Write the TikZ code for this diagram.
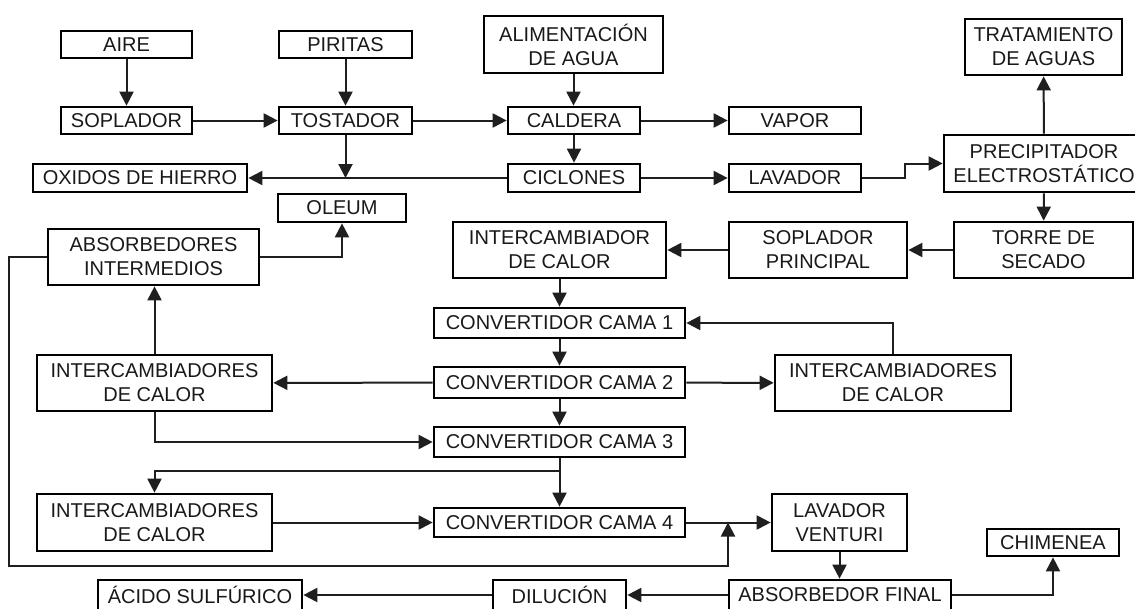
\documentclass[tikz,border=0pt]{standalone}
\usepackage{fontspec}
\setmainfont{Liberation Sans}
\usetikzlibrary{arrows.meta}
\tikzset{
  box/.style={draw=black, line width=2.7pt, fill=white, inner sep=0pt, align=center,
    text=black!90, font=\fontsize{20}{24}\selectfont},
  conn/.style={line width=2pt, draw=black!88, -{Triangle[length=14pt,width=14pt]}},
}
\begin{document}
\begin{tikzpicture}[x=1pt,y=-1pt]
\useasboundingbox (0,0) rectangle (1135,608);
\fill[white] (0,0) rectangle (1135,608);
% nodes
\node[box, minimum width=131, minimum height=27] (aire) at (126.5,44.5) {AIRE};
\node[box, minimum width=133, minimum height=27] (piritas) at (345.5,44.5) {PIRITAS};
\node[box, minimum width=131, minimum height=27] (soplador) at (126.5,120.5) {SOPLADOR};
\node[box, minimum width=133, minimum height=27] (tostador) at (345.5,120.5) {TOSTADOR};
\node[box, minimum width=214, minimum height=28] (oxidos) at (140,178) {OXIDOS DE HIERRO};
\node[box, minimum width=128, minimum height=28] (oleum) at (342,208) {OLEUM};
\node[box, minimum width=179, minimum height=57] (alim) at (573.5,44.5) {ALIMENTACIÓN\\DE AGUA};
\node[box, minimum width=132, minimum height=27] (caldera) at (574,120.5) {CALDERA};
\node[box, minimum width=132, minimum height=28] (ciclones) at (574,178) {CICLONES};
\node[box, minimum width=132, minimum height=27] (vapor) at (795,120.5) {VAPOR};
\node[box, minimum width=132, minimum height=28] (lavador) at (795,178) {LAVADOR};
\node[box, minimum width=157, minimum height=56] (tratam) at (1043.5,47) {TRATAMIENTO\\DE AGUAS};
\node[box, minimum width=200, minimum height=57] (precip) at (1044,163.5) {PRECIPITADOR\\ELECTROSTÁTICO};
\node[box, minimum width=179, minimum height=56] (torre) at (1043.5,250) {TORRE DE\\SECADO};
\node[box, minimum width=178, minimum height=56] (soplprinc) at (818,250) {SOPLADOR\\PRINCIPAL};
\node[box, minimum width=213, minimum height=56] (intercamb) at (559.5,250) {INTERCAMBIADOR\\DE CALOR};
\node[box, minimum width=211, minimum height=56] (absint) at (153.5,257) {ABSORBEDORES\\INTERMEDIOS};
\node[box, minimum width=251, minimum height=30] (conv1) at (559.5,323) {CONVERTIDOR CAMA 1};
\node[box, minimum width=251, minimum height=31] (conv2) at (559.5,382.5) {CONVERTIDOR CAMA 2};
\node[box, minimum width=235, minimum height=56] (interL1) at (154.5,383) {INTERCAMBIADORES\\DE CALOR};
\node[box, minimum width=236, minimum height=56] (interR) at (893,383) {INTERCAMBIADORES\\DE CALOR};
\node[box, minimum width=251, minimum height=30] (conv3) at (559.5,442) {CONVERTIDOR CAMA 3};
\node[box, minimum width=235, minimum height=57] (interL2) at (154.5,522.5) {INTERCAMBIADORES\\DE CALOR};
\node[box, minimum width=251, minimum height=29] (conv4) at (559.5,522.5) {CONVERTIDOR CAMA 4};
\node[box, minimum width=135, minimum height=57] (lventuri) at (839.5,522.5) {LAVADOR\\VENTURI};
\node[box, minimum width=132, minimum height=27] (chimenea) at (1053,542.5) {CHIMENEA};
\node[box, minimum width=204, minimum height=30] (acido) at (200,595) {ÁCIDO SULFÚRICO};
\node[box, minimum width=133, minimum height=30] (dilucion) at (559.5,595) {DILUCIÓN};
\node[box, minimum width=222, minimum height=30] (absfinal) at (840,595) {ABSORBEDOR FINAL};
% helper coordinates
\coordinate (br) at (559.5,471);
\coordinate (lb) at (9,566);
\coordinate (jn) at (728,522.5);
% connectors
\draw[conn] (aire) -- (soplador);
\draw[conn] (piritas) -- (tostador);
\draw[conn] (soplador) -- (tostador);
\draw[conn] (tostador) -- (caldera);
\draw[conn] (alim.south) -- (alim.south |- caldera.north);
\draw[conn] (caldera) -- (vapor);
\draw[conn] (caldera) -- (ciclones);
\draw[conn] (ciclones) -- (lavador);
\draw[conn] (ciclones) -- (oxidos);
\draw[conn] (tostador.south) -- (tostador.south |- ciclones.west);
\draw[conn] (lavador.east) -- ++(43,0) |- (precip.west);
\draw[conn] (precip) -- (tratam);
\draw[conn] (precip) -- (torre);
\draw[conn] (torre) -- (soplprinc);
\draw[conn] (soplprinc) -- (intercamb);
\draw[conn] (intercamb) -- (conv1);
\draw[conn] (conv1) -- (conv2);
\draw[conn] (conv2) -- (conv3);
\draw[conn] (conv2) -- (interL1);
\draw[conn] (conv2) -- (interR);
\draw[conn] (interR.north) |- (conv1.east);
\draw[conn] (interL1.north) -- (interL1.north |- absint.south);
\draw[conn] (absint.east) -| (oleum.south);
\draw[conn] (interL1.south) |- (conv3.west);
\draw[conn] (conv3) -- (conv4);
\draw[conn] (br) -| (interL2.north);
\draw[conn] (interL2) -- (conv4);
\draw[conn] (conv4) -- (lventuri);
\draw[conn] (absint.west) -| (lb) -| (jn);
\draw[conn] (lventuri.south) -- (lventuri.south |- absfinal.north);
\draw[conn] (absfinal) -- (dilucion);
\draw[conn] (dilucion) -- (acido);
\draw[conn] (absfinal.east) -| (chimenea.south);
\end{tikzpicture}
\end{document}
